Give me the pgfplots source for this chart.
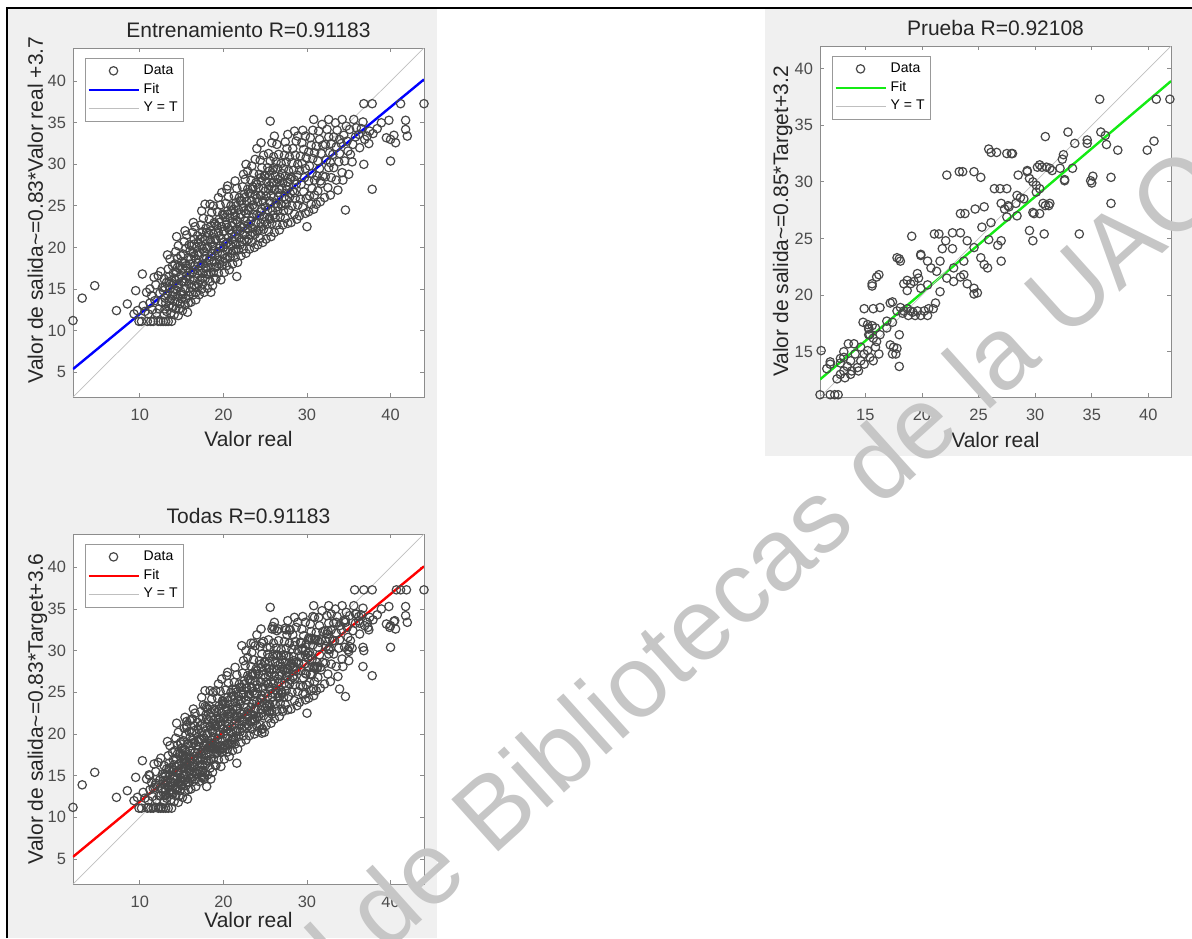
\documentclass[border=0pt]{standalone}
\usepackage{pgfplots}
\pgfplotsset{compat=1.18}
\usepackage{pgfplotstable}
\usepackage{fontspec}
\setmainfont{Liberation Sans}

\definecolor{figbg}{RGB}{240,240,240}
\definecolor{wm}{RGB}{198,198,198}
\definecolor{fitgreen}{RGB}{20,235,20}

% training set (Valor real, Valor de salida)
\pgfplotstableread[row sep=\\]{
x y\\
2.0 11.2\\ 3.1 13.9\\ 4.6 15.4\\ 7.2 12.4\\ 8.5 13.2\\ 9.5 14.8\\ 10.3 16.8\\ 9.3 12.0\\ 9.9 11.1\\ 9.7 12.4\\
10.2 11.1\\ 10.6 12.3\\ 10.9 11.1\\ 10.4 13.0\\ 11.0 12.0\\ 10.8 14.6\\ 11.2 13.3\\
11.3 11.1\\ 11.6 11.1\\ 11.5 12.5\\ 11.8 13.6\\ 11.4 14.2\\ 11.9 15.5\\ 11.7 16.4\\ 12.0 12.1\\ 11.2 15.0\\
12.2 11.1\\ 12.5 11.1\\ 12.8 11.1\\ 12.3 12.6\\ 12.6 13.4\\ 12.9 12.0\\ 12.4 14.5\\ 12.7 15.2\\ 12.2 16.6\\ 12.9 16.2\\ 12.5 17.1\\ 13.0 13.9\\ 12.8 14.8\\
13.1 11.1\\ 13.4 11.1\\ 13.8 11.1\\ 13.2 12.3\\ 13.5 12.9\\ 13.7 13.8\\ 13.3 14.4\\ 13.6 15.0\\ 13.9 14.2\\ 13.2 15.8\\ 13.5 16.5\\ 13.8 16.0\\ 13.4 17.4\\ 13.9 17.8\\ 13.6 18.6\\ 13.1 13.3\\ 13.7 12.1\\ 14.0 15.6\\ 13.3 19.1\\
14.1 11.9\\ 14.3 12.6\\ 14.6 11.8\\ 14.2 13.5\\ 14.5 14.1\\ 14.8 13.2\\ 14.3 14.9\\ 14.6 15.6\\ 14.9 14.7\\ 14.1 16.3\\ 14.4 17.0\\ 14.7 16.4\\ 14.2 18.0\\ 14.5 18.7\\ 14.8 17.7\\ 14.3 19.5\\ 14.6 20.2\\ 14.9 19.0\\ 14.4 21.3\\ 15.0 15.9\\ 14.7 12.6\\ 15.0 13.8\\
15.1 12.4\\ 15.4 13.1\\ 15.7 12.2\\ 15.2 14.3\\ 15.5 15.0\\ 15.8 14.2\\ 15.3 15.9\\ 15.6 16.6\\ 15.9 15.6\\ 15.1 17.4\\ 15.4 18.1\\ 15.7 17.5\\ 15.2 19.2\\ 15.5 19.9\\ 15.8 18.8\\ 15.3 20.7\\ 15.6 21.5\\ 15.9 20.3\\ 15.4 22.0\\ 16.0 17.0\\ 15.8 13.3\\
16.1 13.4\\ 16.4 14.3\\ 16.7 13.7\\ 16.2 15.2\\ 16.5 16.0\\ 16.8 15.3\\ 16.3 17.0\\ 16.6 17.8\\ 16.9 16.8\\ 16.1 18.6\\ 16.4 19.3\\ 16.7 18.6\\ 16.2 20.2\\ 16.5 21.0\\ 16.8 20.0\\ 16.3 21.8\\ 16.6 22.5\\ 16.9 21.4\\ 16.4 23.0\\ 17.0 18.1\\ 16.7 14.6\\
17.1 14.3\\ 17.4 15.0\\ 17.7 14.6\\ 17.2 16.1\\ 17.5 16.9\\ 17.8 16.2\\ 17.3 17.8\\ 17.6 18.6\\ 17.9 17.5\\ 17.1 19.4\\ 17.4 20.2\\ 17.7 19.5\\ 17.2 21.0\\ 17.5 21.9\\ 17.8 20.8\\ 17.3 22.7\\ 17.6 23.5\\ 17.9 22.3\\ 17.4 24.4\\ 17.8 25.2\\ 18.0 18.7\\ 17.5 15.6\\
18.1 15.1\\ 18.4 15.9\\ 18.7 15.4\\ 18.2 16.8\\ 18.5 17.6\\ 18.8 17.0\\ 18.3 18.5\\ 18.6 19.3\\ 18.9 18.3\\ 18.1 20.1\\ 18.4 20.9\\ 18.7 20.2\\ 18.2 21.7\\ 18.5 22.6\\ 18.8 21.6\\ 18.3 23.4\\ 18.6 24.2\\ 18.9 23.0\\ 18.4 25.2\\ 18.8 25.0\\ 19.0 19.6\\ 18.5 14.6\\ 19.0 16.3\\
19.1 16.2\\ 19.4 16.9\\ 19.7 16.1\\ 19.2 17.7\\ 19.5 18.5\\ 19.8 17.8\\ 19.3 19.4\\ 19.6 20.2\\ 19.9 19.2\\ 19.1 21.0\\ 19.4 21.8\\ 19.7 21.1\\ 19.2 22.6\\ 19.5 23.4\\ 19.8 22.5\\ 19.3 24.3\\ 19.6 25.1\\ 19.9 24.0\\ 19.4 26.0\\ 20.0 20.6\\ 19.8 26.6\\
20.1 17.0\\ 20.4 17.8\\ 20.7 17.3\\ 20.2 18.7\\ 20.5 19.5\\ 20.8 18.8\\ 20.3 20.4\\ 20.6 21.2\\ 20.9 20.2\\ 20.1 22.0\\ 20.4 22.8\\ 20.7 22.1\\ 20.2 23.6\\ 20.5 24.4\\ 20.8 23.5\\ 20.3 25.3\\ 20.6 26.1\\ 20.9 25.0\\ 20.4 27.0\\ 21.0 21.6\\ 20.5 27.4\\
21.1 18.0\\ 21.4 18.8\\ 21.7 18.2\\ 21.2 19.6\\ 21.5 20.4\\ 21.8 19.7\\ 21.3 21.3\\ 21.6 22.1\\ 21.9 21.1\\ 21.1 23.0\\ 21.4 23.8\\ 21.7 23.1\\ 21.2 24.6\\ 21.5 25.4\\ 21.8 24.5\\ 21.3 26.2\\ 21.6 27.1\\ 21.9 26.0\\ 21.4 28.0\\ 21.6 16.5\\ 22.0 22.5\\
22.1 19.0\\ 22.4 19.8\\ 22.7 19.3\\ 22.2 20.7\\ 22.5 21.5\\ 22.8 20.8\\ 22.3 22.4\\ 22.6 23.2\\ 22.9 22.2\\ 22.1 24.0\\ 22.4 24.8\\ 22.7 24.1\\ 22.2 25.6\\ 22.5 26.4\\ 22.8 25.5\\ 22.3 27.3\\ 22.6 28.2\\ 22.9 27.0\\ 22.4 28.8\\ 22.7 30.0\\ 22.9 29.2\\
23.1 19.8\\ 23.4 20.6\\ 23.7 20.0\\ 23.2 21.5\\ 23.5 22.3\\ 23.8 21.6\\ 23.3 23.2\\ 23.6 24.0\\ 23.9 23.0\\ 23.1 24.8\\ 23.4 25.6\\ 23.7 24.9\\ 23.2 26.5\\ 23.5 27.3\\ 23.8 26.3\\ 23.3 28.1\\ 23.6 28.9\\ 23.9 27.8\\ 23.4 29.8\\ 23.8 30.6\\ 24.0 31.9\\
24.1 20.3\\ 24.4 21.1\\ 24.7 20.6\\ 24.2 22.1\\ 24.5 22.9\\ 24.8 22.2\\ 24.3 23.8\\ 24.6 24.6\\ 24.9 23.7\\ 24.1 25.5\\ 24.4 26.3\\ 24.7 25.6\\ 24.2 27.2\\ 24.5 28.0\\ 24.8 27.1\\ 24.3 28.8\\ 24.6 29.6\\ 24.9 28.6\\ 24.4 30.5\\ 24.8 31.1\\ 24.5 32.6\\
25.1 21.0\\ 25.4 21.9\\ 25.7 21.3\\ 25.2 22.8\\ 25.5 23.6\\ 25.8 22.9\\ 25.3 24.5\\ 25.6 25.3\\ 25.9 24.4\\ 25.1 26.2\\ 25.4 27.0\\ 25.7 26.3\\ 25.2 27.9\\ 25.5 28.7\\ 25.8 27.7\\ 25.3 29.6\\ 25.6 30.4\\ 25.9 29.3\\ 25.4 31.3\\ 25.6 35.2\\ 25.8 32.6\\ 26.0 30.9\\
26.1 21.8\\ 26.4 22.7\\ 26.7 22.1\\ 26.2 23.6\\ 26.5 24.4\\ 26.8 23.7\\ 26.3 25.3\\ 26.6 26.1\\ 26.9 25.2\\ 26.1 27.0\\ 26.4 27.8\\ 26.7 27.0\\ 26.2 28.6\\ 26.5 29.5\\ 26.8 28.4\\ 26.3 30.3\\ 26.6 31.2\\ 26.9 30.1\\ 26.4 32.4\\ 26.1 33.4\\
27.1 22.7\\ 27.4 23.5\\ 27.7 22.9\\ 27.2 24.4\\ 27.5 25.2\\ 27.8 24.5\\ 27.3 26.1\\ 27.6 26.9\\ 27.9 26.0\\ 27.1 27.8\\ 27.4 28.6\\ 27.7 27.9\\ 27.2 29.5\\ 27.5 30.3\\ 27.8 29.2\\ 27.3 31.1\\ 27.6 31.9\\ 27.9 30.9\\ 27.4 32.7\\ 27.7 33.6\\
28.1 23.0\\ 28.5 24.0\\ 28.8 23.4\\ 28.2 25.0\\ 28.6 25.9\\ 28.9 25.1\\ 28.3 26.8\\ 28.7 27.6\\ 28.1 28.5\\ 28.4 29.3\\ 28.8 28.7\\ 28.2 30.2\\ 28.6 31.1\\ 28.9 30.0\\ 28.3 31.9\\ 28.7 32.8\\ 28.5 34.0\\ 28.9 33.4\\
29.1 23.8\\ 29.5 24.8\\ 29.8 24.1\\ 29.2 25.8\\ 29.6 26.7\\ 29.9 25.9\\ 29.3 27.6\\ 29.7 28.4\\ 29.1 29.3\\ 29.4 30.1\\ 29.8 29.5\\ 29.2 31.0\\ 29.6 31.8\\ 29.9 30.8\\ 29.4 32.6\\ 29.8 33.4\\ 29.5 34.1\\
30.0 22.5\\ 30.2 24.3\\ 30.5 25.2\\ 30.8 24.6\\ 30.3 26.2\\ 30.6 27.1\\ 30.9 26.3\\ 30.2 28.0\\ 30.6 28.9\\ 30.9 28.1\\ 30.3 29.8\\ 30.7 30.7\\ 30.2 31.5\\ 30.5 32.3\\ 30.9 31.4\\ 30.4 33.2\\ 30.8 35.4\\ 30.7 34.1\\
31.1 25.2\\ 31.6 25.5\\ 31.3 26.8\\ 31.7 27.7\\ 31.2 28.6\\ 31.5 29.5\\ 31.9 28.6\\ 31.3 30.4\\ 31.7 31.3\\ 31.1 32.2\\ 31.5 33.0\\ 31.9 32.3\\ 31.4 34.0\\ 31.8 34.8\\ 31.6 28.0\\
32.1 26.0\\ 32.5 27.2\\ 32.8 26.3\\ 32.2 28.5\\ 32.6 29.6\\ 32.9 28.4\\ 32.3 30.5\\ 32.7 31.4\\ 32.2 32.4\\ 32.6 33.3\\ 32.9 32.5\\ 32.4 34.2\\ 32.6 35.4\\ 32.8 30.2\\
33.2 29.6\\ 33.5 28.1\\ 33.8 30.3\\ 33.1 31.2\\ 33.5 32.1\\ 33.9 31.3\\ 33.2 33.3\\ 33.6 34.1\\ 33.9 33.0\\ 33.4 35.0\\ 33.7 26.9\\
34.2 29.0\\ 34.6 24.5\\ 34.5 30.4\\ 34.9 31.6\\ 34.1 32.5\\ 34.4 33.5\\ 34.8 32.8\\ 34.2 35.4\\ 34.7 34.6\\ 34.3 28.1\\
35.0 28.8\\ 35.2 31.2\\ 35.5 32.4\\ 35.8 33.3\\ 35.1 34.2\\ 35.6 35.4\\ 35.4 30.3\\ 35.9 34.4\\
36.2 33.6\\ 36.5 34.3\\ 36.8 30.0\\ 36.3 32.0\\ 36.7 35.1\\ 36.8 37.3\\ 36.9 33.0\\
37.2 33.4\\ 37.5 34.0\\ 37.8 37.3\\ 37.8 27.0\\ 37.4 32.5\\ 37.9 33.7\\
38.4 34.3\\ 38.9 35.0\\ 39.5 33.2\\ 39.8 35.3\\ 40.0 30.4\\ 40.0 33.0\\ 40.4 33.5\\ 40.6 32.6\\ 41.2 37.3\\ 41.8 35.3\\ 41.8 34.2\\ 42.0 33.4\\ 44.0 37.3\\
13.0 12.6\\ 13.0 15.2\\ 13.5 13.6\\ 13.5 15.9\\ 14.0 12.9\\ 14.0 14.6\\ 14.0 16.9\\ 14.5 13.4\\ 14.5 15.3\\ 14.5 17.6\\ 15.0 14.4\\ 15.0 16.6\\ 15.0 18.3\\ 15.5 13.8\\ 15.5 16.2\\ 15.5 17.8\\
16.0 14.7\\ 16.0 16.2\\ 16.0 18.0\\ 16.0 19.6\\ 16.5 15.4\\ 16.5 17.3\\ 16.5 19.0\\ 16.5 20.4\\ 17.0 15.6\\ 17.0 17.2\\ 17.0 19.1\\ 17.0 20.6\\ 17.5 16.3\\ 17.5 18.0\\ 17.5 19.8\\ 17.5 21.2\\
18.0 16.8\\ 18.0 18.1\\ 18.0 19.9\\ 18.0 21.8\\ 18.5 17.0\\ 18.5 18.9\\ 18.5 20.6\\ 18.5 22.0\\ 19.0 17.6\\ 19.0 19.0\\ 19.0 20.9\\ 19.0 22.8\\ 19.5 18.0\\ 19.5 19.9\\ 19.5 21.4\\ 19.5 23.0\\
20.0 18.3\\ 20.0 20.0\\ 20.0 21.9\\ 20.0 23.9\\ 20.5 18.9\\ 20.5 20.6\\ 20.5 22.4\\ 20.5 24.0\\ 21.0 19.3\\ 21.0 20.9\\ 21.0 22.6\\ 21.0 24.4\\ 21.5 19.8\\ 21.5 21.6\\ 21.5 23.3\\ 21.5 25.0\\
22.0 20.3\\ 22.0 22.0\\ 22.0 23.6\\ 22.0 25.6\\ 22.5 20.9\\ 22.5 22.6\\ 22.5 24.4\\ 22.5 26.0\\ 23.0 21.0\\ 23.0 22.8\\ 23.0 24.5\\ 23.0 26.6\\ 23.5 21.8\\ 23.5 23.6\\ 23.5 25.1\\ 23.5 27.0\\
24.0 22.0\\ 24.0 23.9\\ 24.0 25.9\\ 24.0 27.6\\ 24.5 22.5\\ 24.5 24.3\\ 24.5 26.2\\ 24.5 28.4\\ 25.0 23.1\\ 25.0 24.9\\ 25.0 26.8\\ 25.0 28.6\\ 25.5 23.4\\ 25.5 25.6\\ 25.5 27.4\\ 25.5 29.2\\
26.0 23.9\\ 26.0 26.0\\ 26.0 27.8\\ 26.0 29.6\\ 26.5 24.9\\ 26.5 26.6\\ 26.5 28.2\\ 27.0 25.0\\ 27.0 27.1\\ 27.0 28.9\\ 27.5 25.8\\ 27.5 27.4\\ 28.0 26.5\\ 28.0 28.2\\ 28.5 26.6\\ 28.5 28.1\\
}\train

% test set
\pgfplotstableread[row sep=\\]{
x y\\
11.0 11.2\\ 11.9 11.2\\ 12.3 11.2\\ 12.6 11.2\\ 11.1 15.1\\ 11.9 13.9\\ 11.6 13.5\\ 11.9 14.1\\ 12.5 12.6\\ 12.8 13.0\\ 13.1 13.3\\ 12.8 14.0\\ 13.1 14.5\\ 13.4 13.7\\ 13.2 12.7\\ 13.7 13.0\\ 13.7 14.2\\ 13.8 13.3\\ 14.1 14.8\\ 14.3 13.6\\ 14.4 13.3\\ 14.6 14.2\\ 14.6 15.4\\ 14.9 14.8\\ 14.9 13.9\\ 15.2 15.1\\ 15.4 14.5\\ 15.7 14.2\\ 13.5 15.7\\ 14.0 15.7\\ 12.8 14.4\\ 13.1 15.0\\
15.3 16.5\\ 15.7 16.2\\ 16.0 15.9\\ 15.9 15.4\\ 16.2 14.8\\ 16.3 16.5\\ 15.2 17.4\\ 15.6 17.3\\ 15.9 17.1\\ 15.3 17.0\\ 15.4 16.5\\
14.9 18.8\\ 15.7 18.8\\ 16.3 18.9\\ 16.0 21.6\\ 15.6 20.8\\ 16.2 21.8\\ 15.6 21.0\\ 14.8 17.6\\ 15.3 17.1\\
16.9 17.7\\ 17.2 19.3\\ 18.0 16.5\\ 17.5 15.4\\ 17.4 14.8\\ 18.0 13.7\\ 17.7 14.8\\ 17.8 15.3\\ 17.2 15.6\\ 16.9 17.1\\ 17.4 17.6\\ 17.4 19.4\\
17.8 18.6\\ 18.1 18.9\\ 18.4 18.6\\ 19.0 18.6\\ 19.6 18.6\\ 20.2 18.6\\ 18.8 18.2\\ 19.4 18.2\\ 19.9 18.2\\ 20.5 18.2\\ 20.6 18.8\\ 21.2 19.3\\ 18.3 18.4\\ 18.7 18.8\\ 19.2 18.5\\
18.1 23.0\\ 18.0 23.2\\ 17.8 23.3\\ 18.7 20.4\\ 19.0 21.0\\ 19.7 21.5\\ 19.6 21.9\\ 18.4 21.0\\ 18.7 21.3\\ 19.3 21.2\\ 19.9 20.6\\ 20.5 20.9\\ 19.1 25.2\\ 19.9 23.5\\ 20.5 23.0\\ 20.8 22.4\\ 19.9 23.6\\ 21.0 18.8\\ 21.3 22.1\\ 22.2 21.5\\ 21.6 20.3\\
21.1 25.4\\ 21.5 25.4\\ 21.8 24.1\\ 21.6 23.0\\ 22.1 24.8\\ 22.7 25.5\\ 22.7 24.1\\ 22.8 22.4\\ 22.8 21.2\\ 23.4 21.6\\ 23.7 21.8\\ 24.0 21.0\\ 24.6 20.1\\ 24.6 20.6\\ 24.9 20.2\\ 23.7 23.0\\ 23.4 25.5\\ 24.0 24.8\\ 24.6 24.2\\ 23.4 27.2\\ 23.8 27.2\\ 22.2 30.6\\ 23.3 30.9\\ 23.6 30.9\\ 24.6 30.9\\ 25.2 30.4\\ 25.2 23.3\\ 25.8 22.4\\ 25.5 22.7\\ 25.9 24.9\\ 26.1 26.4\\ 25.3 26.0\\ 24.7 27.6\\ 25.5 27.8\\
26.1 32.6\\ 25.9 32.9\\ 26.6 32.6\\ 27.9 32.5\\ 27.5 32.5\\ 28.0 32.5\\ 26.4 29.4\\ 27.5 29.4\\ 26.9 29.4\\ 27.0 28.1\\ 27.3 27.6\\ 27.7 27.8\\ 27.6 27.9\\ 28.3 28.1\\ 28.7 28.6\\ 28.4 27.0\\ 27.5 26.9\\ 26.7 24.4\\ 27.0 24.8\\ 27.0 23.0\\ 28.4 28.8\\ 29.0 28.5\\ 28.5 30.6\\ 29.3 30.9\\ 29.5 30.3\\ 29.8 27.3\\ 30.4 27.2\\
29.3 31.0\\ 29.8 30.0\\ 30.1 29.1\\ 29.8 24.8\\ 30.8 25.4\\ 29.5 25.7\\ 29.9 27.2\\ 30.2 31.3\\ 30.6 31.3\\ 31.0 31.3\\ 30.4 31.5\\ 31.3 31.2\\ 32.2 31.2\\ 30.1 29.7\\ 30.4 29.4\\ 30.7 28.1\\ 31.3 28.1\\ 30.9 27.9\\ 31.2 27.9\\ 31.5 31.0\\ 30.9 34.0\\
32.4 32.0\\ 32.5 32.4\\ 32.6 30.1\\ 33.3 31.2\\ 32.9 34.4\\ 33.5 33.4\\ 34.6 33.4\\ 34.6 33.7\\ 33.9 25.4\\ 34.9 30.1\\ 35.1 30.5\\ 35.0 29.9\\ 35.8 34.4\\ 36.2 34.1\\ 36.3 33.3\\ 36.7 30.4\\ 36.7 28.1\\ 37.3 32.8\\ 39.9 32.8\\ 40.5 33.6\\ 35.7 37.3\\ 40.7 37.3\\ 41.9 37.3\\ 32.6 30.2\\
}\test

\pgfplotsset{
  regplot/.style={
    scale only axis,
    tick align=inside, xtick pos=both, ytick pos=both,
    major tick length=2pt,
    axis line style={black!45},
    every tick/.style={black!45, line width=0.4pt},
    axis background/.style={fill=white},
    /pgf/number format/assume math mode=true,
    tick label style={font=\fontsize{8.2}{9}\selectfont, text=black!70},
    xticklabel style={yshift=-2.5pt},
    label style={font=\fontsize{10.5}{12}\selectfont, text=black!85},
    every axis title shift=0pt,
    title style={font=\fontsize{10.5}{12}\selectfont, text=black!85, at={(0.5,1)}, anchor=base, yshift=5.5pt},
    xlabel style={at={(axis description cs:0.5,-0.143)}, anchor=base},
    ylabel style={at={(axis description cs:-0.0855,0.5)}, anchor=base},
    legend style={at={(axis description cs:0.034,0.971)}, anchor=north west,
      font=\fontsize{7}{8}\selectfont, draw=black!40, fill=white,
      inner sep=1pt, row sep=-1pt},
    legend cell align=left,
    legend image code/.code={\draw[mark repeat=2, mark phase=2, #1] plot coordinates {(0pt,0pt) (12.5pt,0pt) (25pt,0pt)};},
  },
  datamarks/.style={only marks, mark=o, mark size=2.1pt, mark options={draw=black!72, line width=0.6pt}},
}

\begin{document}
\begin{tikzpicture}
\path[use as bounding box] (0pt,0pt) rectangle (596pt,469pt);
\fill[figbg] (3.5pt,0pt) rectangle (218.5pt,465pt);
\fill[figbg] (382.5pt,241pt) rectangle (596pt,465pt);

% Entrenamiento
\begin{axis}[regplot,
  at={(36.5pt,270.5pt)}, anchor=south west,
  width=175.5pt, height=174.5pt,
  xmin=2, xmax=44, ymin=2, ymax=44,
  xtick={10,20,30,40}, ytick={5,10,...,40},
  title={Entrenamiento R=0.91183},
  xlabel={Valor real},
  ylabel={Valor de salida\textasciitilde=0.83*Valor real +3.7},
  ylabel style={at={(axis description cs:-0.0855,0.536)}},
]
\addplot[datamarks] table {\train};
\addplot[blue, line width=1.2pt] coordinates {(2,5.36) (44,40.22)};
\addplot[black!25, line width=0.35pt] coordinates {(2,2) (44,44)};
\legend{Data, Fit, Y = T}
\end{axis}

% Prueba
\begin{axis}[regplot,
  at={(410pt,270.5pt)}, anchor=south west,
  width=175.5pt, height=175.5pt,
  xmin=11, xmax=42, ymin=11, ymax=42,
  xtick={15,20,...,40}, ytick={15,20,...,40},
  title={Prueba R=0.92108},
  xlabel={Valor real},
  ylabel={Valor de salida\textasciitilde=0.85*Target+3.2},
  ylabel style={at={(axis description cs:-0.091,0.5)}},
]
\addplot[datamarks] table {\test};
\addplot[fitgreen, line width=1.2pt] coordinates {(11,12.55) (42,38.9)};
\addplot[black!25, line width=0.35pt] coordinates {(11,11) (42,42)};
\legend{Data, Fit, Y = T}
\end{axis}

% Todas
\begin{axis}[regplot,
  at={(36.5pt,27pt)}, anchor=south west,
  width=175.5pt, height=175pt,
  xmin=2, xmax=44, ymin=2, ymax=44,
  xtick={10,20,30,40}, ytick={5,10,...,40},
  title={Todas R=0.91183},
  xlabel={Valor real},
  ylabel={Valor de salida\textasciitilde=0.83*Target+3.6},
  xlabel style={at={(axis description cs:0.5,-0.125)}},
]
\addplot[datamarks] table {\train};
\addplot[datamarks, forget plot] table {\test};
\addplot[red, line width=1.2pt] coordinates {(2,5.26) (44,40.12)};
\addplot[black!25, line width=0.35pt] coordinates {(2,2) (44,44)};
\legend{Data, Fit, Y = T}
\end{axis}

% frame
\draw[black, line width=1pt] (3.5pt,0pt) -- (3.5pt,465pt) -- (596pt,465pt);

% watermark
\node[rotate=42, anchor=base west, text=wm, font=\fontsize{51}{51}\selectfont, inner sep=0pt]
  at (246pt,40pt) {Bibliotecas de la UAQ};
\node[rotate=42, anchor=base east, text=wm, font=\fontsize{51}{51}\selectfont, inner sep=0pt]
  at (246pt,40pt) {Dirección General de\hspace*{0.28em}};
\end{tikzpicture}
\end{document}
